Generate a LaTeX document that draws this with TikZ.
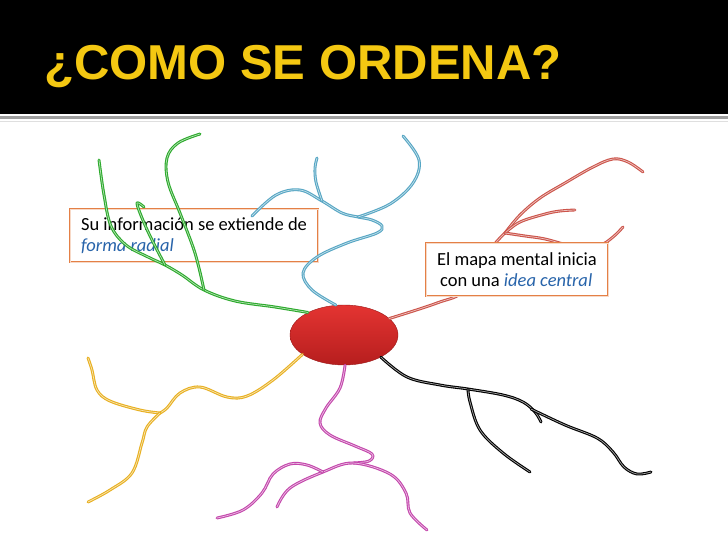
\documentclass[tikz,border=0pt]{standalone}
\usepackage{fontspec}
\setmainfont{Carlito}
\newfontfamily\titlefont{Liberation Sans}
\usetikzlibrary{shapes.geometric}
\definecolor{titleyellow}{RGB}{244,200,18}
\definecolor{boxorange}{RGB}{228,128,70}
\definecolor{textblue}{RGB}{40,100,170}
\definecolor{hubtop}{RGB}{228,52,50}
\definecolor{hubbottom}{RGB}{182,30,30}
\definecolor{grn}{RGB}{44,170,44}
\definecolor{cyanblue}{RGB}{86,166,196}
\definecolor{brickred}{RGB}{204,84,74}
\definecolor{magnta}{RGB}{196,70,172}
\definecolor{ochre}{RGB}{232,176,32}

\begin{document}
\begin{tikzpicture}[x=1pt,y=-1pt,
  titlesty/.style={anchor=base west,inner sep=0pt,text=titleyellow,
    font=\titlefont\bfseries\fontsize{49}{49}\selectfont},
  infobox/.style={draw=boxorange,double=boxorange!30!white,double distance=0.6pt,
    line width=1.1pt,fill=white,align=left,inner sep=4pt,minimum height=53pt,
    font=\fontsize{18.5}{21.5}\selectfont},
  hub/.style={ellipse,minimum width=108pt,minimum height=60pt,
    top color=hubtop,bottom color=hubbottom,draw=hubbottom!85!black,line width=0.4pt},
  branch/.style={draw=#1,double=#1!35!white,double distance=0.7pt,
    line width=1.1pt,line cap=round,line join=round}]

  \useasboundingbox (0,0) rectangle (728,546);
  \fill[white] (0,0) rectangle (728,546);
  \fill[black] (0,0) rectangle (728,114);
  \draw[gray!75,line width=2.5pt] (0,117.5) -- (728,117.5);
  \draw[gray!25,line width=1pt] (0,121) -- (728,121);
  \node[titlesty] (title) at (44,79) {¿COMO SE ORDENA?};

  \node[infobox,minimum width=248pt] (radial) at (194,235.5)
    {Su información se extiende de\\\textit{\color{textblue}forma radial}};

  \node[hub] (hub) at (344,335) {};

  \coordinate (gj) at (165,265);
  \coordinate (gs) at (204,290);
  \draw[branch=grn] plot[smooth,tension=0.6] coordinates {(hub.148) (275,307) (235,301)
    (204,290) (182,275) (165,265) (148,257) (126,245) (111,226) (104,195) (99,160)};
  \draw[branch=grn] plot[smooth,tension=0.6] coordinates {(gs) (199,268) (193,247)
    (180,213) (168,182) (167,158) (178,143) (200,134)};
  \draw[branch=grn] plot[smooth,tension=0.6] coordinates {(gj) (152,240) (142,218)
    (137,203) (144,207)};

  \coordinate (bu) at (322,201);
  \coordinate (br) at (358,217);
  \draw[branch=cyanblue] plot[smooth,tension=0.6] coordinates {(hub.105) (312,290)
    (303,273) (317,257) (347,243) (377,233) (382,226) (372,220) (358,217) (342,213)
    (322,201) (300,190) (276,195) (252,216)};
  \draw[branch=cyanblue] plot[smooth,tension=0.6] coordinates {(bu) (316,182)
    (315,168) (317,158)};
  \draw[branch=cyanblue] plot[smooth,tension=0.6] coordinates {(br) (390,204)
    (413,183) (419,160) (403,136)};

  \coordinate (rj) at (505,233);
  \draw[branch=brickred] plot[smooth,tension=0.6] coordinates {(hub.20) (437,303)
    (465,290) (490,250) (505,233)};
  \draw[branch=brickred] plot[smooth,tension=0.6] coordinates {(rj) (520,215)
    (540,198) (565,183) (593,167) (613,159) (628,162) (643,172)};
  \draw[branch=brickred] plot[smooth,tension=0.6] coordinates {(rj) (520,222)
    (545,214) (560,211) (575,210)};
  \draw[branch=brickred] plot[smooth,tension=0.6] coordinates {(rj) (525,236)
    (545,239) (577,247) (600,245) (613,237) (623,227)};

  \coordinate (kj) at (468,389);
  \coordinate (kk) at (531,409);
  \draw[branch=black] plot[smooth,tension=0.6] coordinates {(hub.-31) (407,377)
    (440,385) (468,389) (503,395) (523,402) (535,412) (541,422)};
  \draw[branch=black] plot[smooth,tension=0.6] coordinates {(kj) (470,402)
    (480,430) (503,453) (530,472)};
  \draw[branch=black] plot[smooth,tension=0.6] coordinates {(kk) (565,425)
    (597,438) (613,452) (624,467) (637,474) (651,472)};

  \coordinate (mj) at (353,463);
  \coordinate (mk) at (323,472);
  \draw[branch=magnta] plot[smooth,tension=0.6] coordinates {(hub.-88) (340,388)
    (326,408) (320,423) (330,435) (355,446) (372,454) (369,461) (353,463)};
  \draw[branch=magnta] plot[smooth,tension=0.6] coordinates {(277,507) (290,488)
    (323,472) (353,463) (390,474) (406,493) (410,513) (427,530)};
  \draw[branch=magnta] plot[smooth,tension=0.6] coordinates {(217,518) (243,510)
    (262,493) (273,474) (290,464) (307,465) (mk)};

  \coordinate (yj) at (160,413);
  \draw[branch=ochre] plot[smooth,tension=0.6] coordinates {(hub.205) (273,380)
    (247,396) (227,397) (200,387) (180,393) (167,408) (160,413)};
  \draw[branch=ochre] plot[smooth,tension=0.6] coordinates {(yj) (140,410)
    (110,401) (97,390) (92,370) (88,358)};
  \draw[branch=ochre] plot[smooth,tension=0.6] coordinates {(yj) (147,427)
    (142,443) (132,473) (110,490) (88,502)};

  \node[infobox,minimum width=182pt] (central) at (517,269.5)
    {El mapa mental inicia\\\hspace*{3pt}con una \textit{\color{textblue}idea central}};

\end{tikzpicture}
\end{document}
